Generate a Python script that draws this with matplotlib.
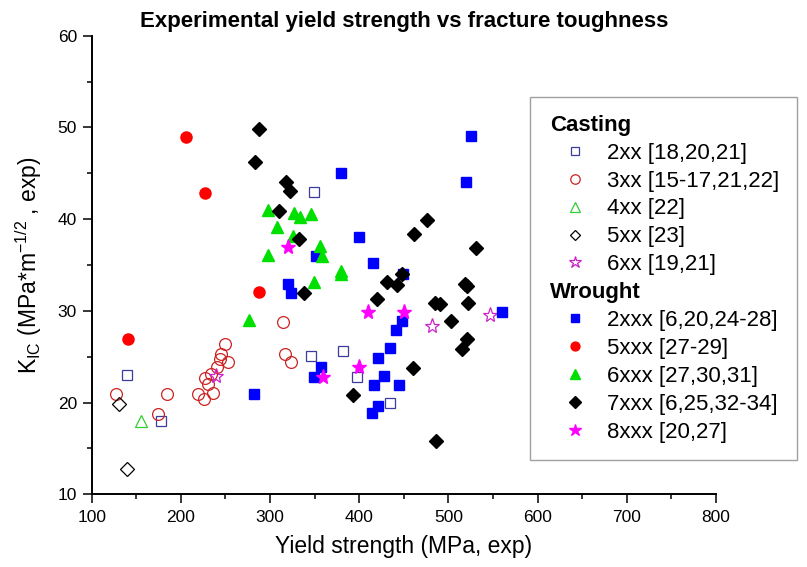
import matplotlib
matplotlib.use('Agg')
import matplotlib.pyplot as plt
from matplotlib.lines import Line2D
from matplotlib.ticker import MultipleLocator

# Casting alloys (open markers)
cast_2xx_x = [140, 178, 349, 346, 382, 397, 434]
cast_2xx_y = [23.0, 18.0, 43.0, 25.1, 25.6, 22.8, 20.0]

cast_3xx_x = [127, 184, 174, 219, 226, 236, 230, 227, 234, 240, 245, 250, 244, 253, 315, 317, 323]
cast_3xx_y = [20.9, 20.9, 18.8, 20.9, 20.4, 21.1, 22.0, 22.7, 23.1, 23.9, 25.3, 26.4, 24.8, 24.4,
              28.8, 25.3, 24.4]

cast_4xx_x = [155]
cast_4xx_y = [18.0]

cast_5xx_x = [131, 140]
cast_5xx_y = [19.8, 12.8]

cast_6xx_x = [239, 482, 547]
cast_6xx_y = [22.9, 28.4, 29.6]

# Wrought alloys (filled markers)
wr_2xxx_x = [282, 320, 323, 379, 400, 415, 351, 449, 448, 441, 434, 421, 357, 349, 428, 416, 445,
             421, 414, 525, 520, 560]
wr_2xxx_y = [20.9, 32.9, 32.0, 45.0, 38.1, 35.2, 36.0, 34.0, 28.9, 27.9, 25.9, 24.9, 23.9, 22.8,
              22.9, 21.9, 21.9, 19.6, 18.9, 49.1, 44.0, 29.9]

wr_5xxx_x = [206, 227, 141, 288]
wr_5xxx_y = [49.0, 42.9, 26.9, 32.1]

wr_6xxx_x = [298, 327, 333, 308, 346, 326, 298, 276, 356, 358, 379, 380, 349]
wr_6xxx_y = [41.0, 40.7, 40.2, 39.1, 40.6, 38.2, 36.1, 29.0, 37.1, 36.0, 34.4, 34.0, 33.2]

wr_7xxx_x = [288, 283, 318, 322, 310, 332, 338, 461, 476, 431, 442, 448, 420, 460, 393, 531, 518,
             521, 485, 490, 522, 503, 521, 515, 486]
wr_7xxx_y = [49.8, 46.2, 44.1, 43.1, 40.9, 37.8, 31.9, 38.4, 39.9, 33.1, 32.8, 34.0, 31.3, 23.8,
             20.8, 36.9, 32.9, 32.7, 30.9, 30.7, 30.9, 28.9, 26.9, 25.8, 15.8]

wr_8xxx_x = [320, 410, 450, 400, 359]
wr_8xxx_y = [37.0, 29.9, 29.9, 23.9, 22.8]

cast_labels = ['2xx [18,20,21]', '3xx [15-17,21,22]', '4xx [22]', '5xx [23]', '6xx [19,21]']
wr_labels = ['2xxx [6,20,24-28]', '5xxx [27-29]', '6xxx [27,30,31]', '7xxx [6,25,32-34]',
             '8xxx [20,27]']

plt.rcParams['font.family'] = ['Liberation Sans', 'DejaVu Sans']
plt.rcParams['mathtext.default'] = 'regular'

fig = plt.figure(figsize=(8.07, 5.67), dpi=100)
ax = fig.add_axes([0.1136, 0.1282, 0.7737, 0.8088])

open_kw = dict(linestyle='none', mfc='none', mew=0.9)
h_c2 = ax.plot(cast_2xx_x, cast_2xx_y, marker='s', ms=7.5, mec='#3c3ca0', **open_kw)[0]
h_c3 = ax.plot(cast_3xx_x, cast_3xx_y, marker='o', ms=8.5, mec='#cc2222', **open_kw)[0]
h_c4 = ax.plot(cast_4xx_x, cast_4xx_y, marker='^', ms=9, mec='#33cc33', **open_kw)[0]
h_c5 = ax.plot(cast_5xx_x, cast_5xx_y, marker='D', ms=7, mec='black', **open_kw)[0]
h_c6 = ax.plot(cast_6xx_x, cast_6xx_y, marker='*', ms=11, mec='#cc22cc', **open_kw)[0]

h_w2 = ax.plot(wr_2xxx_x, wr_2xxx_y, 's', ms=7.5, color='#0000ff')[0]
h_w5 = ax.plot(wr_5xxx_x, wr_5xxx_y, 'o', ms=8, color='#ff0000')[0]
h_w6 = ax.plot(wr_6xxx_x, wr_6xxx_y, '^', ms=8.5, color='#00e000')[0]
h_w7 = ax.plot(wr_7xxx_x, wr_7xxx_y, 'D', ms=7.5, color='black')[0]
h_w8 = ax.plot(wr_8xxx_x, wr_8xxx_y, '*', ms=11, color='#ff00ff')[0]

ax.set_xlim(100, 800)
ax.set_ylim(10, 60)
ax.xaxis.set_major_locator(MultipleLocator(100))
ax.xaxis.set_minor_locator(MultipleLocator(50))
ax.yaxis.set_major_locator(MultipleLocator(10))
ax.yaxis.set_minor_locator(MultipleLocator(5))
ax.spines['top'].set_visible(False)
ax.spines['right'].set_visible(False)
for s in ('left', 'bottom'):
    ax.spines[s].set_linewidth(1.4)
ax.tick_params(which='major', length=6.5, width=1.1, labelsize=12.5, pad=5)
ax.tick_params(which='minor', length=3.6, width=1.1)
ax.tick_params(axis='y', pad=4)

ax.set_xlabel('Yield strength (MPa, exp)', fontsize=16.5, labelpad=7)
ax.set_ylabel(r'K$_{IC}$ (MPa*m$^{-1/2}$ , exp)', fontsize=16.5, labelpad=10)
ax.set_title('Experimental yield strength vs fracture toughness', fontsize=16,
             fontweight='bold', pad=6)

# legend with group headers
blank = Line2D([], [], linestyle='none', marker='none')
handles = [blank, h_c2, h_c3, h_c4, h_c5, h_c6, blank, h_w2, h_w5, h_w6, h_w7, h_w8]
labels = ['Casting'] + cast_labels + ['Wrought'] + wr_labels
leg = fig.legend(handles, labels, loc='upper right', bbox_to_anchor=(797 / 807, 1 - 97 / 567),
                 fontsize=16, frameon=True, fancybox=False, framealpha=1, edgecolor='#a0a0a0',
                 borderaxespad=0, borderpad=0.8, handlelength=2.4, handletextpad=0.25,
                 labelspacing=0.31, markerscale=0.8)
leg.get_frame().set_linewidth(1.0)
texts = leg.get_texts()
for i in (0, 6):
    texts[i].set_fontweight('bold')
    texts[i].set_x(-57)

fig.savefig('out.png', dpi=100)
